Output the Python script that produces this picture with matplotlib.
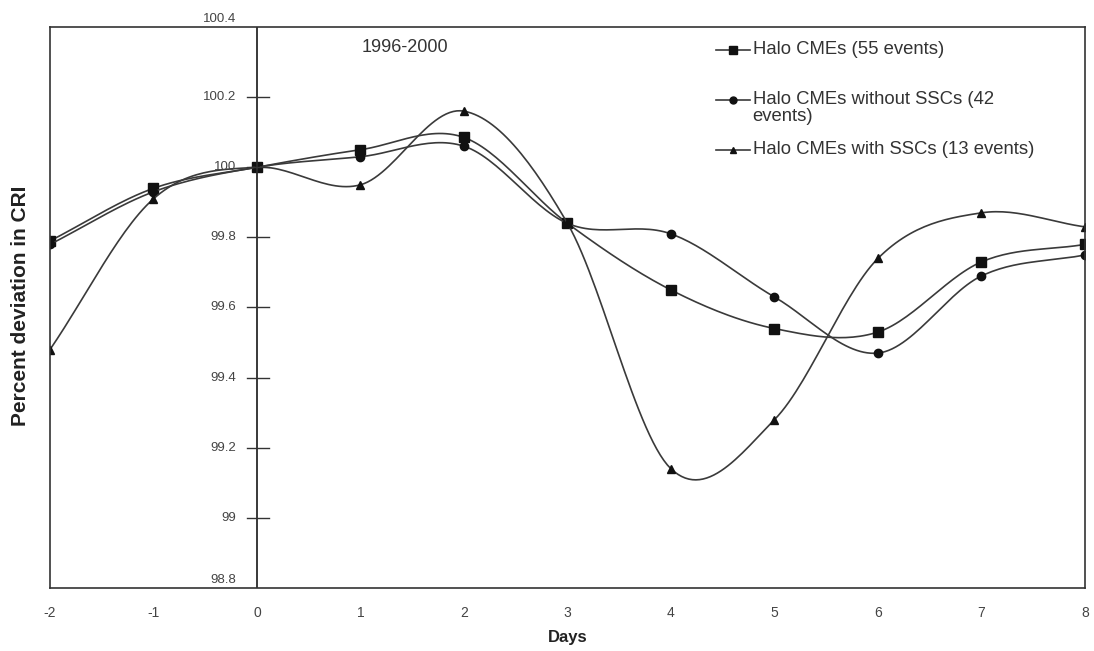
import numpy as np
import matplotlib
matplotlib.use('Agg')
import matplotlib.pyplot as plt

plt.rcParams['font.family'] = ['Liberation Sans', 'DejaVu Sans']

days = [-2, -1, 0, 1, 2, 3, 4, 5, 6, 7, 8]
halo_all = [99.79, 99.94, 100.0, 100.05, 100.085, 99.84, 99.65, 99.54, 99.53, 99.73, 99.78]
halo_no_ssc = [99.78, 99.93, 100.0, 100.03, 100.06, 99.84, 99.81, 99.63, 99.47, 99.69, 99.75]
halo_ssc = [99.48, 99.91, 100.0, 99.95, 100.16, 99.84, 99.14, 99.28, 99.74, 99.87, 99.83]

labels = ['Halo CMEs (55 events)',
          'Halo CMEs without SSCs (42\nevents)',
          'Halo CMEs with SSCs (13 events)']
yticks = [98.8, 99, 99.2, 99.4, 99.6, 99.8, 100, 100.2, 100.4]
ytick_labels = ['98.8', '99', '99.2', '99.4', '99.6', '99.8', '100', '100.2', '100.4']


def smooth(x, y, n=30):
    # catmull-rom curve through the points, like a spreadsheet "smoothed line"
    x = np.asarray(x, float)
    y = np.asarray(y, float)
    px = np.concatenate([[2 * x[0] - x[1]], x, [2 * x[-1] - x[-2]]])
    py = np.concatenate([[2 * y[0] - y[1]], y, [2 * y[-1] - y[-2]]])
    xs, ys = [], []
    t = np.linspace(0, 1, n)
    for i in range(1, len(px) - 2):
        for p, out in ((px, xs), (py, ys)):
            p0, p1, p2, p3 = p[i - 1], p[i], p[i + 1], p[i + 2]
            out.extend(0.5 * (2 * p1 + (-p0 + p2) * t
                              + (2 * p0 - 5 * p1 + 4 * p2 - p3) * t ** 2
                              + (-p0 + 3 * p1 - 3 * p2 + p3) * t ** 3))
    return np.array(xs), np.array(ys)


fig = plt.figure(figsize=(10.94, 6.51), dpi=100)
ax = fig.add_axes([0.0457, 0.0968, 0.946, 0.8617])

line_col = '#3a3a3a'
mark_col = '#111111'
styles = [('s', 6.5), ('o', 6), ('^', 6)]
for vals, (m, ms) in zip([halo_all, halo_no_ssc, halo_ssc], styles):
    sx, sy = smooth(days, vals)
    ax.plot(sx, sy, color=line_col, lw=1.2)
    ax.plot(days, vals, linestyle='none', marker=m, ms=ms, color=mark_col)

ax.set_xlim(-2, 8)
ax.set_ylim(98.8, 100.4)

# y axis drawn through day 0
ax.axvline(0, color='#2a2a2a', lw=1.3)
for spine in ax.spines.values():
    spine.set_color('#333333')
    spine.set_linewidth(1.2)

ax.set_yticks([])
for v, t in zip(yticks, ytick_labels):
    edge = v in (98.8, 100.4)
    if not edge:
        ax.plot([-0.1, 0.12], [v, v], color='#333333', lw=1.0, clip_on=False)
    ax.text(-0.2, v + (0.005 if edge else 0), t, ha='right',
            va='bottom' if edge else 'center', fontsize=9.5, color='#444444')

ax.set_xticks(days)
ax.set_xticklabels([str(d) for d in days], fontsize=10, color='#444444')
ax.tick_params(axis='x', length=0, pad=13)

ax.set_xlabel('Days', fontsize=12, fontweight='bold', color='#222222', labelpad=7)
ax.set_ylabel('Percent deviation in CRI', fontsize=15, fontweight='bold', color='#222222')
ax.yaxis.set_label_coords(-0.019, 0.503)

ax.text(1.01, 100.343, '1996-2000', fontsize=13, color='#333333', va='center')

# legend laid out by hand, Excel style (second label wraps onto two lines)
leg_y = [0.959, 0.870, 0.781]
for (m, ms), lab, yy in zip(styles, labels, leg_y):
    ax.plot([0.644, 0.676], [yy, yy], transform=ax.transAxes, color=line_col, lw=1.2)
    ax.plot([0.660], [yy], transform=ax.transAxes, marker=m, ms=ms - 1, color=mark_col)
    ax.text(0.679, yy + 0.016, lab, transform=ax.transAxes, fontsize=13.3,
            color='#333333', va='top', ha='left', linespacing=1.0)

fig.savefig('out.png', dpi=100)
